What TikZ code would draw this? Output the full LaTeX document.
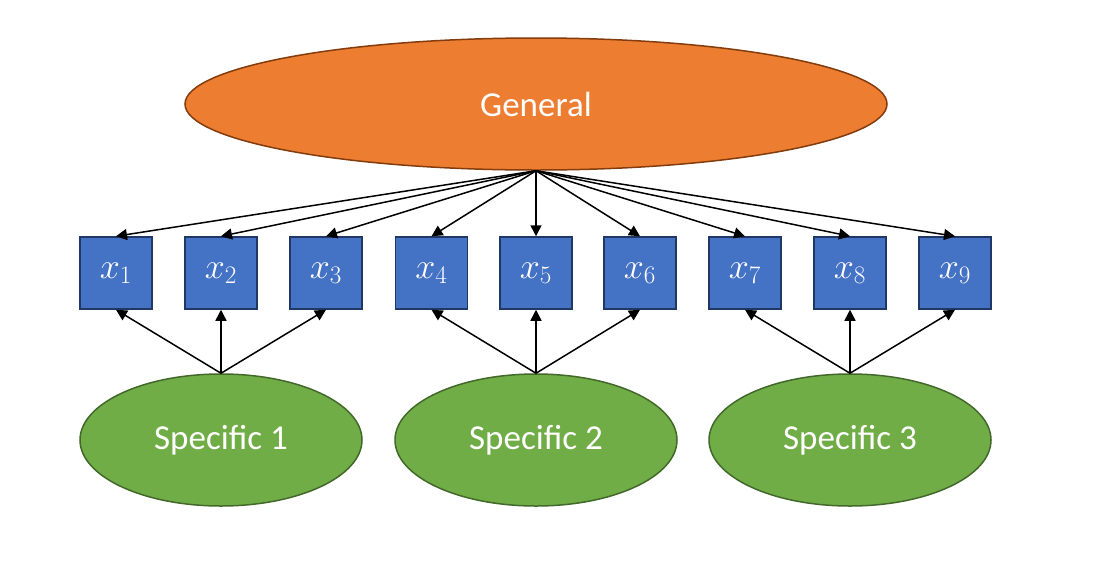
\RequirePackage{fix-cm}
\documentclass[tikz,border=0pt]{standalone}
\usepackage{fontspec}
\setmainfont{Carlito}
\usepackage{tikz}
\usetikzlibrary{shapes}
\usetikzlibrary{arrows.meta}
\definecolor{genfill}{HTML}{ED7D31}
\definecolor{gendraw}{HTML}{843C0C}
\definecolor{itemfill}{HTML}{4472C4}
\definecolor{itemdraw}{HTML}{203864}
\definecolor{specfill}{HTML}{70AD47}
\definecolor{specdraw}{HTML}{42692A}
\tikzset{
	factor/.style={ellipse, line width=1.5pt, text=white, font=\fontsize{35}{42}\selectfont},
	item/.style={rectangle, draw=itemdraw, fill=itemfill, line width=1.5pt, minimum size=72, inner sep=0pt, text=white, font=\fontsize{36}{42}\selectfont},
	load/.style={line width=1.5pt, -{Triangle[length=11pt, width=11pt]}}
}

\begin{document}
\begin{tikzpicture}[x=1pt, y=-1pt]
	\useasboundingbox (0, 0) rectangle (1116, 579);
	\node[factor, draw=gendraw, fill=genfill, minimum width=702, minimum height=132] (gen) at (536, 104) {General};

	% indicators
	\foreach \i/\x in {1/116, 2/221, 3/326, 4/431.5, 5/536, 6/640, 7/745, 8/850, 9/955}
		\node[item] (x\i) at (\x, 273) {$x_{\i}$};

	% specific factors
	\node[factor, draw=specdraw, fill=specfill, minimum width=282, minimum height=132] (s1) at (221, 440) {Specific 1};
	\node[factor, draw=specdraw, fill=specfill, minimum width=282, minimum height=132] (s2) at (536, 440) {Specific 2};
	\node[factor, draw=specdraw, fill=specfill, minimum width=282, minimum height=132] (s3) at (850, 440) {Specific 3};

	\foreach \i in {1,...,9}
		\draw[load] (gen.south) -- (x\i.north);
	\foreach \s/\a/\b/\c in {1/1/2/3, 2/4/5/6, 3/7/8/9} {
		\draw[load] (s\s.north) -- (x\a.south);
		\draw[load] (s\s.north) -- (x\b.south);
		\draw[load] (s\s.north) -- (x\c.south);
	}
\end{tikzpicture}
\end{document}
